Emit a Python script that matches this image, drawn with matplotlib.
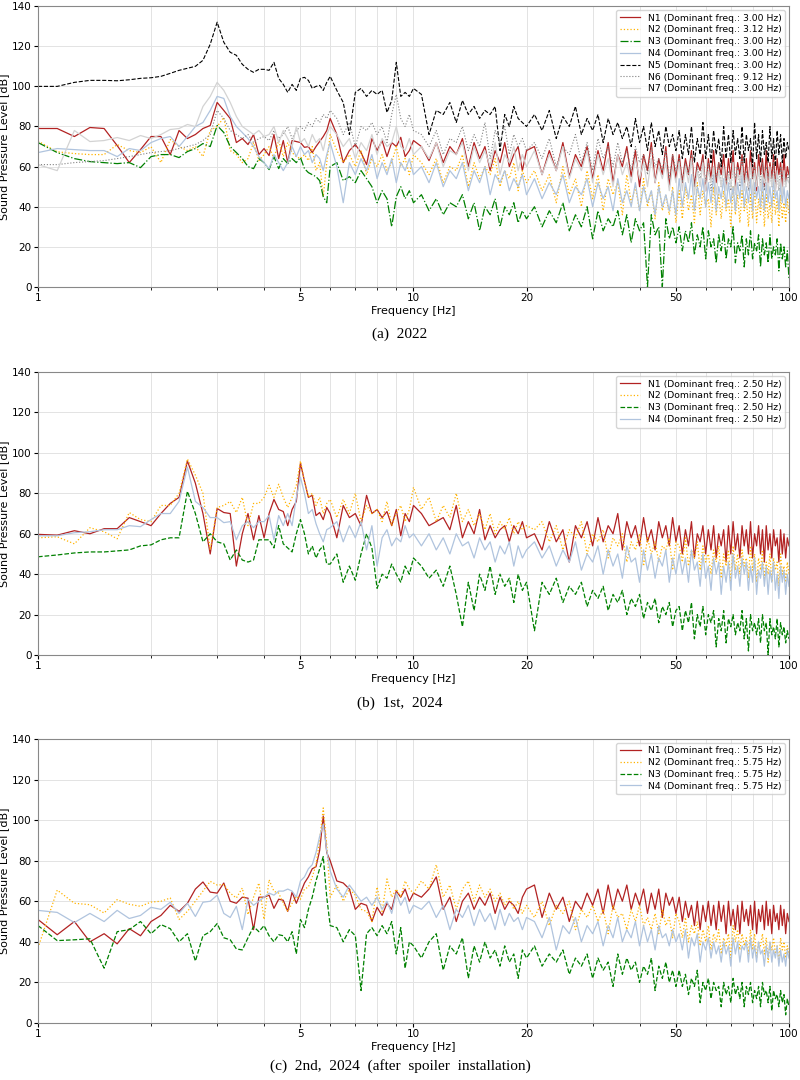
import matplotlib.pyplot as plt
from matplotlib.ticker import NullFormatter
import numpy as np

# frequency grid [Hz] (finer at low frequency, coarser above 10 Hz)
freq = np.concatenate([np.arange(1.0, 6.01, 0.125), np.arange(6.25, 10.01, 0.25),
                       np.arange(10.5, 20.01, 0.5), np.arange(21.0, 50.01, 1.0),
                       np.arange(51.0, 100.01, 1.0)])

# ---------------- (a) 2022 ----------------
a_labels = ["N1 (Dominant freq.: 3.00 Hz)", "N2 (Dominant freq.: 3.12 Hz)",
            "N3 (Dominant freq.: 3.00 Hz)", "N4 (Dominant freq.: 3.00 Hz)",
            "N5 (Dominant freq.: 3.00 Hz)", "N6 (Dominant freq.: 9.12 Hz)",
            "N7 (Dominant freq.: 3.00 Hz)"]
a_n1 = [79, 79, 75, 79.5, 79, 70.5, 62, 68.5, 75, 75, 66, 78, 74, 76, 79, 80.5, 92, 88, 84, 72,
        74, 71, 76, 66, 69, 65.5, 76, 64, 73, 62, 73, 72.5, 72, 69.6, 70, 67, 70, 72.5, 75, 78, 84,
        76, 62, 68, 71, 67, 61, 74, 68, 73, 65, 72, 70, 74.6, 65, 68, 73,
        70, 63, 72, 62, 70, 66, 74, 60, 72, 64, 70, 58, 68, 62, 72, 60, 66, 70, 58, 68,
        70, 56, 68, 58, 72, 55, 66, 60, 70, 54, 68, 58, 72, 52, 66, 60, 70, 55, 68, 50,
        66, 58, 72, 52, 64, 56, 70, 50, 66, 54,
        66, 52, 64, 56, 68, 50, 62, 58, 66, 48, 64, 54, 68, 52, 62, 56, 66, 50, 64, 54,
        68, 48, 62, 56, 66, 52, 64, 50, 68, 54, 62, 48, 66, 56, 64, 50, 68, 52, 62, 54,
        66, 48, 64, 56, 62, 50, 66, 52, 60, 56]
a_n2 = [72.7, 67.4, 66.5, 66, 66, 71, 68, 67, 69.9, 62, 73.5, 70, 68, 70, 65, 78, 80, 84.5, 68, 66,
        62, 64, 72, 63, 66, 70, 64, 73, 65, 72, 67, 65, 64, 66, 63, 70, 58, 62, 45, 62, 76,
        68, 62, 66, 60, 68, 56, 64, 60, 66, 58, 62, 70, 60, 64, 56, 66,
        62, 56, 64, 52, 60, 58, 66, 50, 62, 54, 60, 56, 64, 50, 58, 54, 62, 48, 58, 52,
        58, 48, 56, 42, 60, 46, 54, 40, 58, 44, 56, 38, 54, 46, 52, 36, 56, 42, 50, 38,
        54, 40, 48, 34, 52, 38, 46, 36, 50, 32,
        48, 34, 50, 38, 46, 32, 52, 36, 48, 40, 44, 30, 50, 36, 46, 34, 48, 38, 44, 30,
        50, 36, 46, 32, 48, 38, 44, 30, 46, 34, 50, 32, 44, 36, 48, 30, 46, 34, 42, 32,
        48, 36, 44, 30, 46, 34, 42, 32, 44, 36]
a_n3 = [72, 67, 64, 62.5, 62, 61.5, 62, 59.5, 65, 66, 66, 64.5, 67.5, 69, 71.5, 70, 80.5, 77, 70, 67,
        64, 60, 59, 64, 62, 58.5, 65, 59, 64, 61.5, 64, 62, 64.5, 59, 57, 56, 55, 53, 45, 42, 60,
        62, 53, 55, 52, 58, 54, 50, 42, 48, 44, 30, 45, 50, 44, 48, 42,
        46, 38, 44, 36, 42, 40, 46, 34, 42, 28, 40, 36, 44, 30, 40, 36, 42, 32, 38, 34,
        40, 30, 38, 32, 42, 28, 36, 30, 40, 24, 38, 28, 34, 30, 38, 26, 36, 22, 34, 28,
        32, 0, 36, 26, 30, 0, 34, 24, 30, 22,
        30, 18, 28, 22, 32, 16, 26, 20, 30, 14, 28, 20, 24, 12, 26, 18, 28, 14, 24, 20,
        30, 12, 22, 18, 26, 10, 24, 16, 28, 14, 22, 18, 26, 10, 24, 16, 22, 12, 26, 14,
        20, 16, 24, 8, 22, 14, 20, 10, 18, 4]
a_n4 = [67, 69, 68.5, 68, 68, 65, 69, 68, 72, 74, 75, 70, 75, 80, 82, 88, 95, 94, 85, 80,
        77, 74, 70, 65, 62, 59, 66, 62, 58, 62, 70, 65, 70, 66, 68, 62, 66, 64, 58, 66, 72,
        60, 42, 62, 56, 64, 58, 66, 54, 62, 56, 64, 52, 62, 58, 64, 56,
        60, 52, 62, 50, 58, 54, 62, 48, 58, 52, 60, 46, 56, 52, 58, 48, 54, 50, 56, 46,
        54, 44, 52, 46, 56, 42, 50, 46, 54, 40, 52, 44, 50, 38, 54, 42, 48, 40, 52, 38,
        50, 42, 48, 36, 50, 40, 46, 38, 48, 36,
        54, 40, 52, 44, 56, 38, 50, 44, 54, 40, 52, 42, 56, 38, 50, 44, 54, 40, 52, 42,
        50, 38, 52, 44, 56, 40, 50, 42, 54, 38, 52, 44, 50, 40, 54, 38, 52, 42, 50, 40,
        54, 44, 48, 38, 52, 42, 50, 40, 48, 44]
a_n5 = [100, 100, 102, 103, 103, 102.8, 103.3, 104, 104.3, 105, 106.5, 108, 109, 110, 113, 121,
        132, 122, 117, 115.5, 111, 108.5, 107, 108.5, 108.5, 108, 112, 104, 101, 97, 101, 98,
        104, 104.5, 103, 99, 100, 100.5, 98, 102, 105,
        98, 92, 76, 97, 99, 95, 98, 96, 98, 87, 93, 112, 95, 97, 95, 99,
        96, 76, 88, 86, 92, 82, 93, 86, 90, 84, 88, 86, 90, 68, 86, 80, 90, 84, 82, 80,
        86, 78, 88, 74, 85, 80, 90, 76, 84, 78, 86, 72, 84, 76, 82, 74, 80, 70, 84, 72,
        80, 68, 82, 70, 78, 66, 80, 70, 76, 68,
        78, 64, 76, 66, 80, 62, 74, 66, 82, 64, 76, 62, 78, 66, 74, 60, 80, 64, 76, 62,
        78, 66, 74, 64, 80, 62, 76, 68, 74, 60, 82, 64, 76, 62, 78, 66, 72, 62, 80, 64,
        74, 60, 78, 66, 76, 62, 74, 64, 72, 68]
a_n6 = [61, 61, 62, 62.5, 63, 64, 65, 66, 67, 67.5, 68, 69, 70, 71, 73, 76, 88, 84, 78, 76,
        74, 76, 72, 74, 75, 73, 78, 74, 76, 80, 74, 78, 80, 78, 82, 80, 84, 82, 86, 84, 88,
        84, 76, 82, 70, 80, 78, 82, 76, 80, 72, 86, 96, 84, 80, 86, 78,
        76, 70, 78, 66, 74, 72, 80, 68, 76, 70, 82, 64, 78, 72, 80, 66, 76, 70, 74, 68,
        72, 64, 74, 60, 70, 66, 76, 62, 72, 58, 74, 64, 70, 60, 72, 62, 68, 58, 70, 62,
        66, 56, 70, 60, 64, 58, 68, 54, 66, 58,
        64, 52, 62, 56, 66, 50, 60, 54, 64, 52, 62, 48, 60, 54, 62, 50, 60, 52, 58, 48,
        62, 54, 60, 50, 64, 52, 58, 48, 62, 54, 60, 50, 58, 52, 62, 48, 60, 54, 58, 50,
        62, 52, 56, 48, 60, 54, 58, 50, 56, 54]
a_n7 = [61, 58, 78, 72.5, 73, 74.5, 73, 75.5, 74, 76, 78.5, 79, 81, 80, 90, 95, 102, 98, 92, 85,
        80, 78, 76, 78, 75, 76, 80, 72, 78, 74, 70, 80, 72, 74, 70, 76, 72, 74, 68, 76, 80,
        76, 70, 74, 64, 72, 68, 76, 66, 74, 70, 72, 80, 70, 68, 74, 66,
        70, 64, 72, 60, 68, 66, 72, 58, 70, 62, 68, 60, 72, 56, 66, 62, 70, 58, 66, 60,
        68, 56, 66, 58, 70, 54, 64, 58, 68, 52, 66, 56, 64, 50, 66, 56, 62, 52, 64, 54,
        62, 50, 64, 52, 60, 54, 62, 48, 60, 52,
        62, 48, 60, 52, 64, 46, 58, 50, 62, 48, 58, 52, 60, 46, 58, 50, 60, 48, 56, 50,
        62, 46, 58, 52, 60, 48, 56, 50, 62, 46, 58, 50, 60, 48, 56, 52, 58, 46, 60, 50,
        56, 48, 58, 50, 54, 46, 58, 50, 54, 52]

# ---------------- (b) 1st, 2024 ----------------
b_labels = ["N1 (Dominant freq.: 2.50 Hz)", "N2 (Dominant freq.: 2.50 Hz)",
            "N3 (Dominant freq.: 2.50 Hz)", "N4 (Dominant freq.: 2.50 Hz)"]
b_n1 = [59.7, 59.3, 61.5, 60, 62.5, 62.5, 68, 66, 64, 70, 75, 78, 96, 85, 70, 50, 72.5, 70.5, 70, 44,
        60, 70, 57, 69, 58, 70, 77, 72, 71, 64, 72, 76, 95, 86, 78, 79, 69, 70.5, 67, 73, 70,
        58, 74, 68, 70, 64, 79, 70, 72, 68, 71, 64, 72, 59, 70, 66, 74,
        70, 64, 66, 68, 62, 74, 58, 66, 60, 72, 57, 64, 58, 62, 64, 56, 64, 60, 66, 58,
        60, 52, 66, 56, 62, 46, 64, 58, 66, 54, 68, 56, 64, 60, 70, 52, 66, 58, 64, 54,
        68, 56, 62, 52, 66, 58, 64, 54, 68, 56,
        64, 50, 62, 54, 66, 48, 60, 56, 64, 50, 62, 52, 64, 48, 60, 54, 62, 46, 64, 50,
        66, 52, 60, 48, 64, 54, 62, 50, 66, 48, 60, 54, 64, 50, 62, 46, 64, 52, 60, 48,
        62, 54, 58, 46, 62, 50, 60, 48, 58, 54]
b_n2 = [58, 58.5, 55, 63, 61, 57.5, 70.5, 67, 66, 74, 74, 80, 97, 89, 80, 52, 73, 74, 76, 70.5,
        78, 64, 75, 75, 78, 84, 78, 84.5, 78, 73, 78, 84, 96, 86, 78, 80, 74, 78, 70, 75, 77,
        68, 77, 70, 80, 66, 74, 70, 72, 66, 76, 64, 70, 74, 66, 72, 83,
        72, 78, 66, 74, 68, 80, 66, 72, 64, 70, 62, 70, 60, 66, 62, 68, 60, 66, 62, 64,
        62, 66, 56, 64, 52, 62, 58, 66, 50, 60, 56, 62, 48, 58, 54, 60, 46, 56, 52, 60,
        44, 58, 50, 56, 46, 54, 52, 58, 42, 56,
        54, 46, 58, 44, 52, 48, 56, 42, 54, 46, 50, 40, 52, 46, 54, 38, 50, 44, 52, 36,
        54, 42, 50, 40, 52, 44, 48, 38, 54, 42, 50, 36, 48, 42, 52, 38, 46, 40, 50, 36,
        48, 42, 46, 34, 50, 40, 44, 36, 46, 40]
b_n3 = [48.6, 49.5, 50.5, 51, 51, 51.5, 52, 54, 54.5, 57, 58, 58, 81, 70, 56, 60, 56, 55, 47, 52,
        47, 46, 47, 57, 57, 57, 53, 64, 55, 53, 51, 60, 67, 60, 50, 54, 48, 52, 54, 45, 45,
        50, 36, 44, 37, 50, 60, 53, 33, 40, 38, 45, 40, 36, 44, 40, 48,
        44, 38, 42, 34, 44, 30, 14, 36, 22, 40, 32, 44, 30, 40, 34, 38, 26, 40, 32, 36,
        12, 36, 30, 38, 26, 34, 30, 36, 24, 32, 28, 34, 22, 30, 26, 32, 20, 28, 24, 30,
        18, 26, 22, 28, 16, 24, 20, 26, 14, 22,
        24, 12, 22, 16, 26, 8, 20, 14, 24, 10, 20, 16, 22, 4, 18, 12, 22, 6, 18, 14,
        20, 10, 16, 12, 22, 8, 18, 2, 20, 12, 16, 10, 18, 6, 20, 12, 16, 0, 18, 10,
        14, 8, 18, 4, 16, 10, 14, 6, 12, 8]
b_n4 = [59, 59, 60.5, 61, 62, 62, 64, 63.5, 67, 70, 70, 76, 93, 76, 73, 68, 68, 65.5, 66, 57,
        64, 66, 63, 66, 66, 69, 57, 69, 64, 70, 64, 78, 88, 80, 70, 72, 65, 60, 56, 62, 63,
        66, 56, 64, 58, 66, 52, 64, 44, 58, 62, 54, 58, 56, 64, 58, 60,
        54, 60, 52, 58, 50, 60, 54, 56, 48, 58, 52, 56, 46, 54, 50, 56, 44, 54, 48, 52,
        56, 48, 54, 44, 52, 46, 56, 42, 50, 46, 54, 40, 52, 44, 50, 38, 54, 46, 48, 36,
        52, 42, 50, 38, 48, 44, 52, 36, 48, 40,
        50, 40, 48, 36, 52, 42, 46, 34, 50, 38, 44, 32, 48, 40, 46, 30, 44, 36, 46, 32,
        50, 38, 44, 34, 48, 40, 46, 32, 44, 36, 48, 30, 42, 38, 46, 34, 44, 30, 42, 36,
        46, 32, 40, 28, 44, 36, 42, 30, 40, 34]

# ---------------- (c) 2nd, 2024 ----------------
c_labels = ["N1 (Dominant freq.: 5.75 Hz)", "N2 (Dominant freq.: 5.75 Hz)",
            "N3 (Dominant freq.: 5.75 Hz)", "N4 (Dominant freq.: 5.75 Hz)"]
c_n1 = [51, 43.5, 50, 40, 44, 39, 46.5, 43, 50, 53, 58, 55, 59, 66, 69.5, 64.5, 64, 69, 60, 59,
        62, 61.5, 46, 62, 62, 63, 56.5, 61, 60.5, 55, 64.5, 59, 64, 69, 72, 76, 77, 85, 102, 84, 80,
        70, 69, 66, 56, 59, 58, 50, 57, 53, 59, 56, 65, 62, 66, 60, 64,
        62, 66, 72, 56, 62, 50, 60, 64, 56, 62, 58, 64, 54, 62, 56, 60, 58, 54, 62, 66,
        68, 52, 64, 56, 62, 50, 60, 56, 64, 58, 66, 54, 68, 56, 66, 60, 68, 56, 64, 58,
        66, 54, 64, 56, 66, 52, 64, 58, 62, 54,
        62, 50, 60, 52, 58, 48, 60, 46, 58, 50, 60, 48, 58, 46, 60, 50, 58, 44, 60, 48,
        56, 46, 58, 44, 60, 50, 56, 48, 58, 46, 60, 44, 56, 50, 58, 46, 60, 48, 56, 44,
        58, 50, 54, 46, 58, 48, 56, 44, 54, 50]
c_n2 = [37, 65.5, 59, 58.3, 54.2, 60.8, 58.5, 57.5, 59.6, 60, 61.6, 51, 55, 60, 65, 69.8, 68, 68.2,
        64, 61.6, 66.5, 53.4, 62, 69, 51, 70.6, 64.9, 64, 59, 55, 59, 62.4, 61, 66, 67, 72, 78, 90,
        106, 88, 62,
        68, 60, 66, 63, 56, 55, 50, 67, 55, 71, 62, 66, 62, 70, 66, 64,
        70, 66, 78, 62, 68, 56, 66, 70, 60, 68, 62, 66, 60, 64, 58, 62, 56, 60, 54, 58,
        52, 60, 48, 58, 54, 60, 46, 56, 52, 58, 50, 56, 44, 58, 52, 54, 46, 56, 50, 58,
        48, 52, 46, 54, 44, 56, 48, 52, 42, 54,
        50, 42, 52, 40, 48, 44, 50, 38, 46, 40, 48, 36, 44, 40, 46, 34, 42, 38, 44, 32,
        48, 40, 46, 36, 44, 38, 42, 34, 46, 36, 44, 32, 40, 38, 44, 34, 42, 30, 40, 36,
        42, 34, 38, 30, 42, 36, 40, 32, 38, 34]
c_n3 = [48, 40.6, 41, 41.5, 27, 45, 46, 50, 44, 48.5, 46.5, 40, 44, 30.5, 43, 45, 49, 42, 41, 36.5,
        36, 42, 47.5, 45, 48, 43, 40, 43.5, 43, 40, 45, 34, 51, 47, 56, 62, 70, 76, 82, 62, 48,
        47, 40, 46, 43, 16, 44, 47, 43, 48, 44, 50, 34, 47, 27, 40, 38,
        32, 40, 44, 26, 38, 34, 42, 22, 38, 30, 40, 32, 36, 28, 38, 30, 34, 22, 36, 32,
        38, 28, 34, 30, 36, 24, 32, 28, 34, 22, 32, 26, 30, 18, 34, 24, 32, 26, 30, 20,
        28, 24, 32, 16, 28, 22, 30, 20, 26, 18,
        26, 18, 24, 14, 22, 18, 26, 10, 20, 16, 22, 12, 20, 16, 18, 8, 20, 14, 18, 10,
        22, 14, 18, 12, 20, 8, 18, 14, 20, 10, 16, 12, 18, 8, 20, 14, 16, 10, 18, 6,
        16, 12, 14, 8, 16, 10, 14, 4, 12, 8]
c_n4 = [55.5, 54.5, 49.5, 54, 50, 55.5, 51.5, 53, 57, 56, 59.5, 54, 59, 52.5, 59.5, 60, 63, 54, 52,
        57.5, 46, 61, 58, 60, 62, 64, 63, 65, 65, 66, 65, 62, 70, 72, 76, 78, 84, 92, 98, 85, 75,
        66, 62, 68, 64, 60, 62, 58, 62, 56, 60, 54, 64, 58, 62, 54, 58,
        56, 60, 52, 58, 46, 56, 52, 58, 48, 56, 50, 54, 46, 56, 48, 54, 50, 52, 46, 52,
        50, 42, 52, 36, 48, 44, 52, 40, 48, 44, 50, 38, 48, 42, 52, 40, 46, 42, 50, 38,
        48, 40, 46, 36, 48, 42, 44, 38, 46, 40,
        44, 36, 46, 32, 42, 38, 44, 30, 40, 36, 42, 32, 40, 34, 38, 30, 40, 34, 38, 28,
        42, 34, 40, 30, 38, 36, 40, 30, 42, 32, 38, 30, 40, 34, 36, 28, 38, 32, 40, 30,
        36, 32, 38, 28, 36, 30, 34, 28, 36, 32]

# line styles for N1..N7
colors = ['#b22222', '#ffb300', 'green', 'lightsteelblue', 'black', 'gray', 'lightgray']
widths = [0.9, 0.9, 0.9, 0.9, 0.8, 0.8, 0.9]


def draw_panel(ax, series, labels, styles, caption, cap_y):
    for i, vals in enumerate(series):
        ax.plot(freq, vals, color=colors[i], ls=styles[i], lw=widths[i], label=labels[i])
    ax.set_xscale('log')
    ax.set_xlim(1, 100)
    ax.set_ylim(0, 140)
    ax.set_yticks(range(0, 141, 20))
    ax.set_xticks([1, 5, 10, 20, 50, 100])
    ax.set_xticklabels(['1', '5', '10', '20', '50', '100'])
    ax.xaxis.set_minor_formatter(NullFormatter())
    ax.tick_params(labelsize=7.5, length=3, pad=1.5)
    ax.tick_params(which='minor', length=2)
    ax.grid(True, which='both', color='#e3e3e3', lw=0.7)
    ax.set_axisbelow(True)
    for s in ax.spines.values():
        s.set_color('#888888')
    ax.set_xlabel('Frequency [Hz]', fontsize=8, labelpad=2)
    ax.set_ylabel('Sound Pressure Level [dB]', fontsize=8, labelpad=2)
    ax.legend(loc='upper right', fontsize=6.7, borderaxespad=0.4, handlelength=2.2,
              labelspacing=0.3, borderpad=0.4)
    fig.text(0.5, cap_y, caption, ha='center', va='center', fontsize=11,
             family='Liberation Serif')


fig = plt.figure(figsize=(8, 10.8), dpi=100)

ax_a = fig.add_axes([0.0475, 0.7343, 0.9387, 0.2600])
draw_panel(ax_a, [a_n1, a_n2, a_n3, a_n4, a_n5, a_n6, a_n7], a_labels,
           ['-', ':', '-.', '-', '--', ':', '-'], '(a)  2022', 0.6907)

ax_b = fig.add_axes([0.0475, 0.3935, 0.9387, 0.2620])
draw_panel(ax_b, [b_n1, b_n2, b_n3, b_n4], b_labels,
           ['-', ':', '--', '-'], '(b)  1st,  2024', 0.349)

ax_c = fig.add_axes([0.0475, 0.0528, 0.9387, 0.2630])
draw_panel(ax_c, [c_n1, c_n2, c_n3, c_n4], c_labels,
           ['-', ':', '--', '-'], '(c)  2nd,  2024  (after  spoiler  installation)', 0.013)

plt.savefig('out.png', dpi=100)
